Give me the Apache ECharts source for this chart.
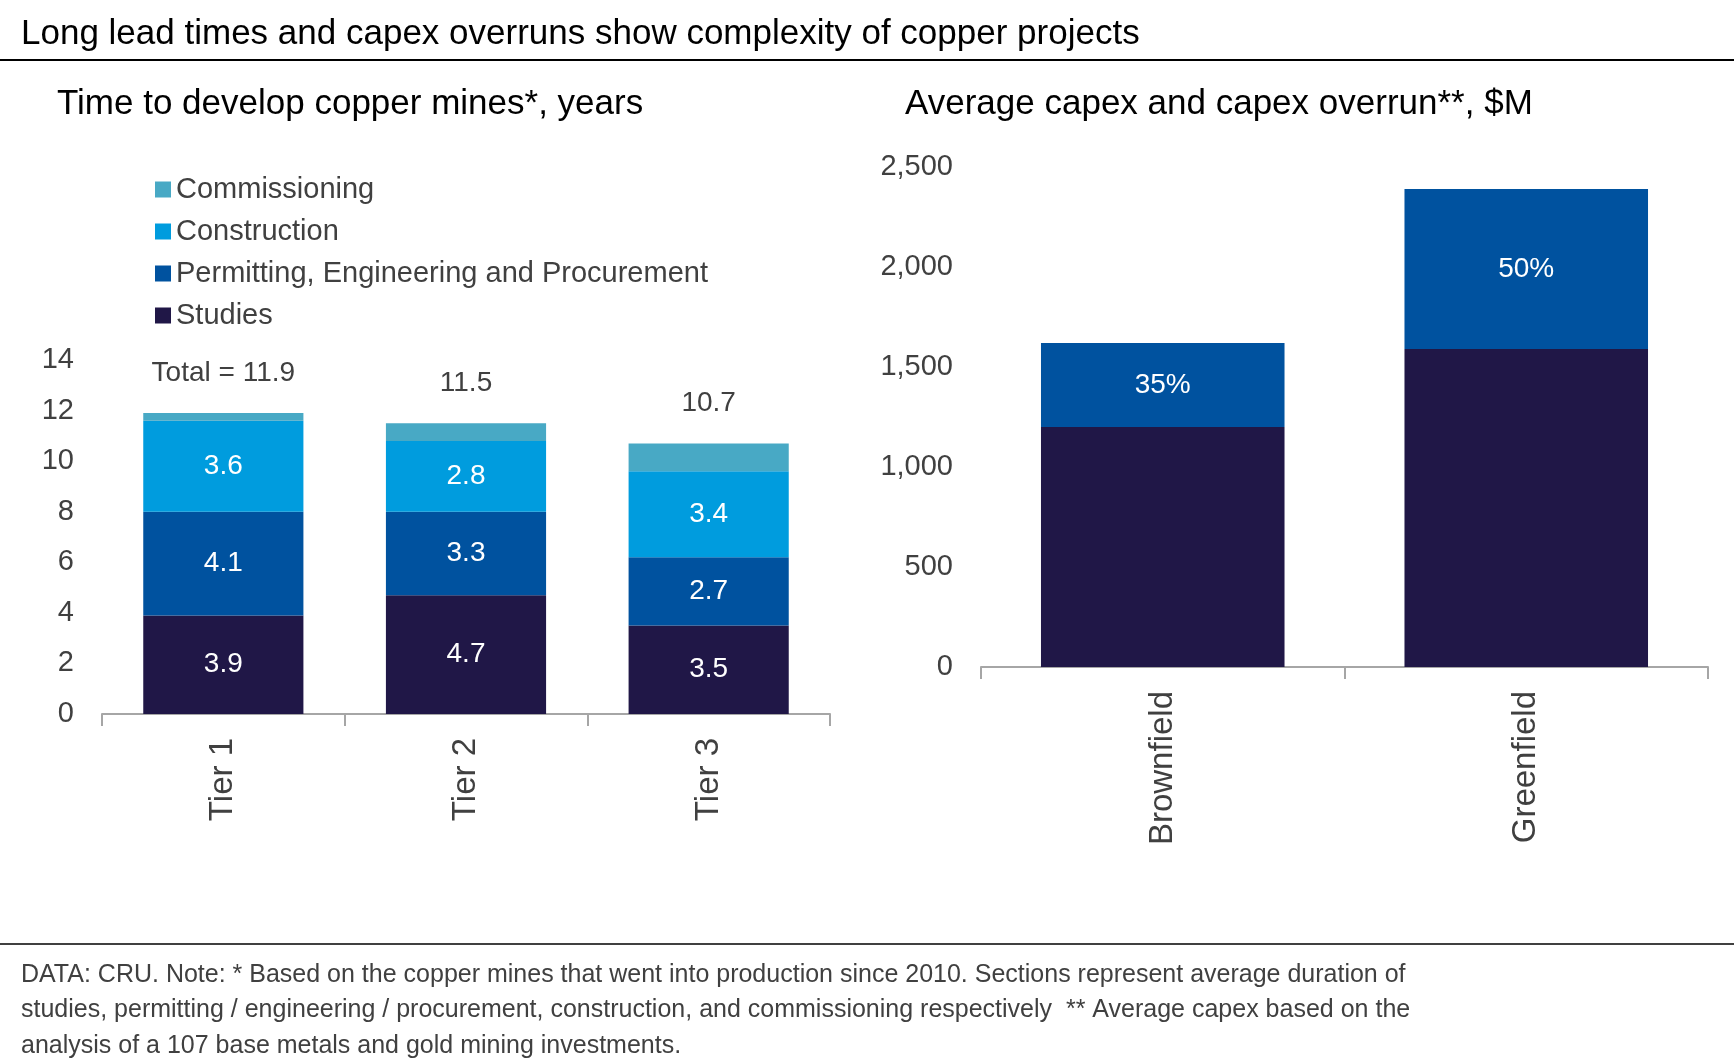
<!DOCTYPE html>
<html><head><meta charset="utf-8">
<script src="https://cdn.jsdelivr.net/npm/echarts@6/dist/echarts.min.js"></script>
<style>html,body{margin:0;padding:0;background:#fff}#c{width:1734px;height:1058px}</style>
</head><body><div id="c"></div>
<script>
const tiers = ['Tier 1','Tier 2','Tier 3'];
const studies = [3.9, 4.7, 3.5];
const permitting = [4.1, 3.3, 2.7];
const construction = [3.6, 2.8, 3.4];
const commissioning = [0.3, 0.7, 1.1];
const totals = ['Total = 11.9', '11.5', '10.7'];
const fields = ['Brownfield','Greenfield'];
const capex = [1200, 1590];
const overrun = [420, 800];
const overrunPct = ['35%','50%'];
const yTicks = [0,2,4,6,8,10,12,14];

const F = 'Liberation Sans, Arial, sans-serif';
const axisLine = {show:true, lineStyle:{color:'#a6a6a6', width:2}};
const inLabel = {show:true, position:'inside', color:'#fff', fontSize:28, fontFamily:F};
const chart = echarts.init(document.getElementById('c'));
chart.setOption({
  animation:false,
  textStyle:{fontFamily:F},
  title:[
    {text:'Long lead times and capex overruns show complexity of copper projects', left:16, top:12, textStyle:{fontSize:35, fontWeight:'normal', color:'#000', fontFamily:F}},
    {text:'Time to develop copper mines*, years', left:52, top:82, textStyle:{fontSize:35, fontWeight:'normal', color:'#000', fontFamily:F}},
    {text:'Average capex and capex overrun**, $M', left:900, top:82, textStyle:{fontSize:35, fontWeight:'normal', color:'#000', fontFamily:F}},
    {text:'DATA: CRU. Note: * Based on the copper mines that went into production since 2010. Sections represent average duration of\nstudies, permitting / engineering / procurement, construction, and commissioning respectively  ** Average capex based on the\nanalysis of a 107 base metals and gold mining investments.', left:16, top:952, textStyle:{fontSize:25, lineHeight:35.5, fontWeight:'normal', color:'#404040', fontFamily:F}}
  ],
  graphic:[
    {type:'line', shape:{x1:0,y1:60,x2:1734,y2:60}, style:{stroke:'#000', lineWidth:2}},
    {type:'line', shape:{x1:0,y1:944,x2:1734,y2:944}, style:{stroke:'#000', lineWidth:1.5}}
  ],
  legend:{orient:'vertical', left:150, top:170, itemGap:13, itemWidth:16, itemHeight:16, icon:'rect',
    data:['Commissioning','Construction','Permitting, Engineering and Procurement','Studies'],
    textStyle:{fontSize:29, color:'#404040', fontFamily:F}},
  grid:[
    {left:102, width:728, top:360, height:354},
    {left:981, width:727, top:167, height:500}
  ],
  xAxis:[
    {gridIndex:0, type:'category', data:tiers, axisLine:axisLine, axisTick:{show:true, length:12, lineStyle:{color:'#a6a6a6', width:2}},
      axisLabel:{rotate:90, fontSize:33, color:'#404040', margin:24, fontFamily:F}},
    {gridIndex:1, type:'category', data:fields, axisLine:axisLine, axisTick:{show:true, length:12, lineStyle:{color:'#a6a6a6', width:2}},
      axisLabel:{rotate:90, fontSize:33, color:'#404040', margin:24, fontFamily:F}}
  ],
  yAxis:[
    {gridIndex:0, type:'value', min:0, max:14, interval:2, splitLine:{show:false}, axisLine:{show:false}, axisTick:{show:false},
      axisLabel:{fontSize:29, color:'#404040', margin:28, fontFamily:F}},
    {gridIndex:1, type:'value', min:0, max:2500, interval:500, splitLine:{show:false}, axisLine:{show:false}, axisTick:{show:false},
      axisLabel:{fontSize:29, color:'#404040', margin:28, fontFamily:F, formatter:v=>v.toLocaleString('en-US')}}
  ],
  series:[
    {name:'Studies', type:'bar', stack:'t', xAxisIndex:0, yAxisIndex:0, data:studies, barWidth:'66%', itemStyle:{color:'#201747'}, label:inLabel},
    {name:'Permitting, Engineering and Procurement', type:'bar', stack:'t', xAxisIndex:0, yAxisIndex:0, data:permitting, itemStyle:{color:'#00529f'}, label:inLabel},
    {name:'Construction', type:'bar', stack:'t', xAxisIndex:0, yAxisIndex:0, data:construction, itemStyle:{color:'#009cde'}, label:inLabel},
    {name:'Commissioning', type:'bar', stack:'t', xAxisIndex:0, yAxisIndex:0, data:commissioning, itemStyle:{color:'#48a9c5'},
      label:{show:true, position:'top', distance:26, fontSize:28, color:'#404040', fontFamily:F, formatter:p=>totals[p.dataIndex]}},
    {name:'Capex', type:'bar', stack:'c', xAxisIndex:1, yAxisIndex:1, data:capex, barWidth:'67%', itemStyle:{color:'#201747'}},
    {name:'Overrun', type:'bar', stack:'c', xAxisIndex:1, yAxisIndex:1, data:overrun, itemStyle:{color:'#00529f'},
      label:Object.assign({}, inLabel, {formatter:p=>overrunPct[p.dataIndex]})}
  ]
});
</script></body></html>
